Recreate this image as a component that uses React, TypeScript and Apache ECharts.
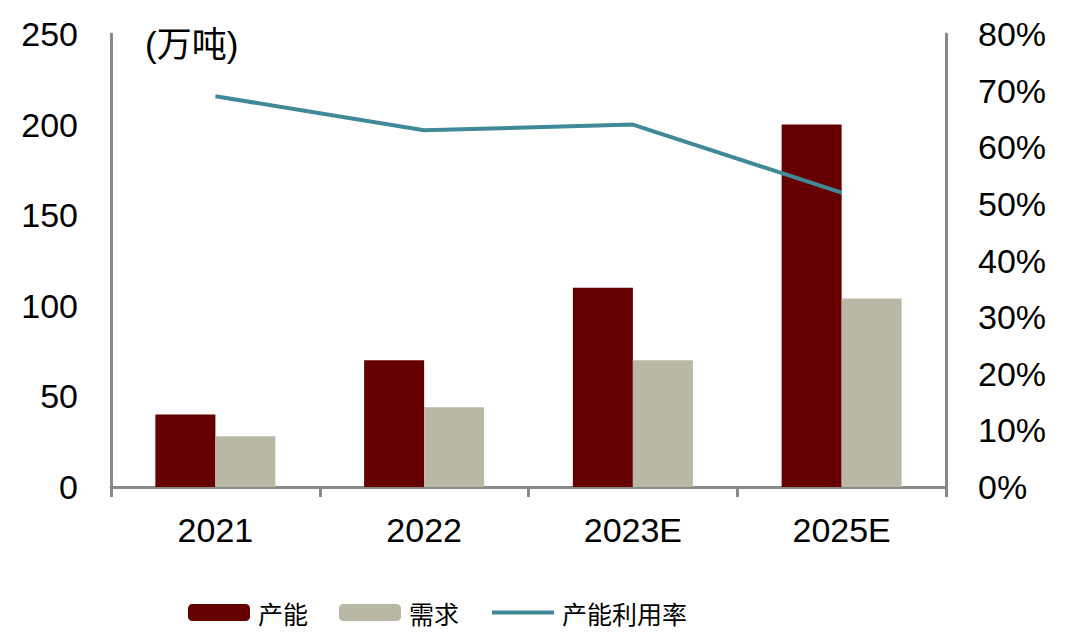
import React, { useEffect, useRef } from "react";
import * as echarts from "echarts";

const categories = ["2021", "2022", "2023E", "2025E"];
const capacity = [40, 70, 110, 200];
const demand = [28, 44, 70, 104];
const utilization = [69.0, 63.0, 64.0, 52.0];
const leftTicks = [0, 50, 100, 150, 200, 250];
const rightTicksPct = [0, 10, 20, 30, 40, 50, 60, 70, 80];

const FONT = "'Liberation Sans', Arial, 'Noto Sans CJK SC', sans-serif";

export default function App() {
  const ref = useRef<HTMLDivElement>(null);
  useEffect(() => {
    if (!ref.current) return;
    const chart = echarts.init(ref.current, undefined, { renderer: "svg" });
    const axisColor = "#898989";
    chart.setOption({
      animation: false,
      backgroundColor: "#ffffff",
      textStyle: { fontFamily: FONT },
      title: {
        text: "(万吨)",
        left: 145,
        top: 27,
        padding: 0,
        textStyle: { fontSize: 35, fontWeight: "normal", color: "#000", fontFamily: FONT },
      },
      grid: { left: 111, right: 123, top: 34, bottom: 150, containLabel: false },
      legend: {
        left: 188,
        top: 600,
        padding: 0,
        itemWidth: 62,
        itemHeight: 17,
        itemGap: 31,
        textStyle: { fontSize: 25, color: "#000", fontFamily: "'Noto Sans CJK SC', sans-serif", padding: [0, 0, 0, 3] },
        data: [
          { name: "产能" },
          { name: "需求" },
          { name: "产能利用率", itemStyle: { opacity: 0 }, lineStyle: { width: 4, color: "#3F8999" } },
        ],
      },
      xAxis: {
        type: "category",
        data: categories,
        axisLine: { lineStyle: { color: axisColor, width: 3 } },
        axisTick: { show: true, length: 10, lineStyle: { color: axisColor, width: 3 }, alignWithLabel: false },
        axisLabel: { fontSize: 34, color: "#000", margin: 26, fontFamily: FONT },
      },
      yAxis: [
        {
          type: "value",
          min: leftTicks[0],
          max: leftTicks[leftTicks.length - 1],
          interval: 50,
          axisLine: { show: true, lineStyle: { color: axisColor, width: 3 } },
          axisTick: { show: false },
          splitLine: { show: false },
          axisLabel: { fontSize: 34, color: "#000", margin: 33, fontFamily: FONT },
        },
        {
          type: "value",
          min: rightTicksPct[0],
          max: rightTicksPct[rightTicksPct.length - 1],
          interval: 10,
          position: "right",
          axisLine: { show: true, lineStyle: { color: axisColor, width: 3 } },
          axisTick: { show: false },
          splitLine: { show: false },
          axisLabel: { fontSize: 34, color: "#000", margin: 32, formatter: "{value}%", fontFamily: FONT },
        },
      ],
      series: [
        {
          name: "产能",
          type: "bar",
          data: capacity,
          barWidth: 60,
          barGap: "0%",
          itemStyle: { color: "#660000" },
        },
        {
          name: "需求",
          type: "bar",
          data: demand,
          barWidth: 60,
          barGap: "0%",
          itemStyle: { color: "#B9B8A7" },
        },
        {
          name: "产能利用率",
          type: "line",
          yAxisIndex: 1,
          data: utilization,
          symbol: "none",
          showSymbol: false,
          lineStyle: { color: "#3F8999", width: 4 },
          itemStyle: { color: "#3F8999" },
        },
      ],
    });
    return () => chart.dispose();
  }, []);
  return (
    <div
      ref={ref}
      style={{ position: "fixed", left: 0, top: 0, width: 1069, height: 637, background: "#fff" }}
    />
  );
}
